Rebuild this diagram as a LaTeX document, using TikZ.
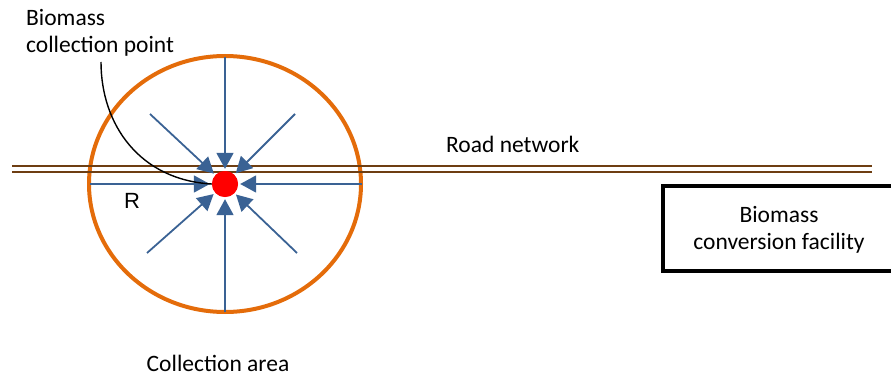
\documentclass[tikz,border=0pt]{standalone}
\usepackage{fontspec}
\setmainfont{Carlito}
\newfontfamily\rfont{Liberation Sans}
\usetikzlibrary{arrows.meta}
\definecolor{areaorange}{RGB}{228,108,10}
\definecolor{roadbrown}{RGB}{110,62,18}
\definecolor{flowblue}{RGB}{58,98,148}
\tikzset{
  lbl/.style={font=\fontsize{23.5}{27}\selectfont, inner sep=0pt},
  flow/.style={draw=flowblue, line width=1.8pt, -{Triangle[length=16pt,width=17pt]}, shorten >=2pt},
  road/.style={draw=roadbrown, line width=2.6pt},
}
\begin{document}
\begin{tikzpicture}[x=1pt,y=-1pt]
\useasboundingbox (0,0) rectangle (891,377);
% collection area
\draw[areaorange, line width=4pt] (225,184) ellipse [x radius=136pt, y radius=128pt];
% road network
\coordinate (r1a) at (12,166); \coordinate (r1b) at (872,166);
\coordinate (r2a) at (12,172); \coordinate (r2b) at (872,172);
\draw[road] (r1a) -- (r1b);
\draw[road] (r2a) -- (r2b);
% collection point
\node[circle, fill=red, minimum size=26pt, inner sep=0pt] (dot) at (225,184) {};
% flow starts
\coordinate (sT) at (225,57);
\coordinate (sB) at (225,312);
\coordinate (sL) at (90,184);
\coordinate (sR) at (362,184);
\coordinate (sUL) at (150,114);
\coordinate (sUR) at (295,114);
\coordinate (sLL) at (147,253);
\coordinate (sLR) at (297,253);
\foreach \s in {sT,sB,sL,sR,sUL,sUR,sLL,sLR} \draw[flow] (\s) -- (dot);
\node[circle, fill=red, minimum size=26pt, inner sep=0pt] at (dot) {};
% labels
\node[lbl, align=left, anchor=base west] (cp) at (26,53) {Biomass\\collection point};
\coordinate (cps) at (101,62);
\draw[black, line width=1.4pt] (cps) .. controls (101,125) and (140,180) .. (dot.west);
\node[lbl, anchor=base west] (rn) at (446,153) {Road network};
\node[font=\rfont\fontsize{22}{26}\selectfont, inner sep=0pt, anchor=base west] (R) at (124,208) {R};
\node[lbl, anchor=base] (ca) at (218,371) {Collection area};
% facility
\node[draw=black, line width=4pt, minimum width=260pt, minimum height=85pt, anchor=north west] (fac) at (661,184) {};
\node[lbl, align=center, anchor=base] (ft) at (779,249) {Biomass\\conversion facility};
\end{tikzpicture}
\end{document}
